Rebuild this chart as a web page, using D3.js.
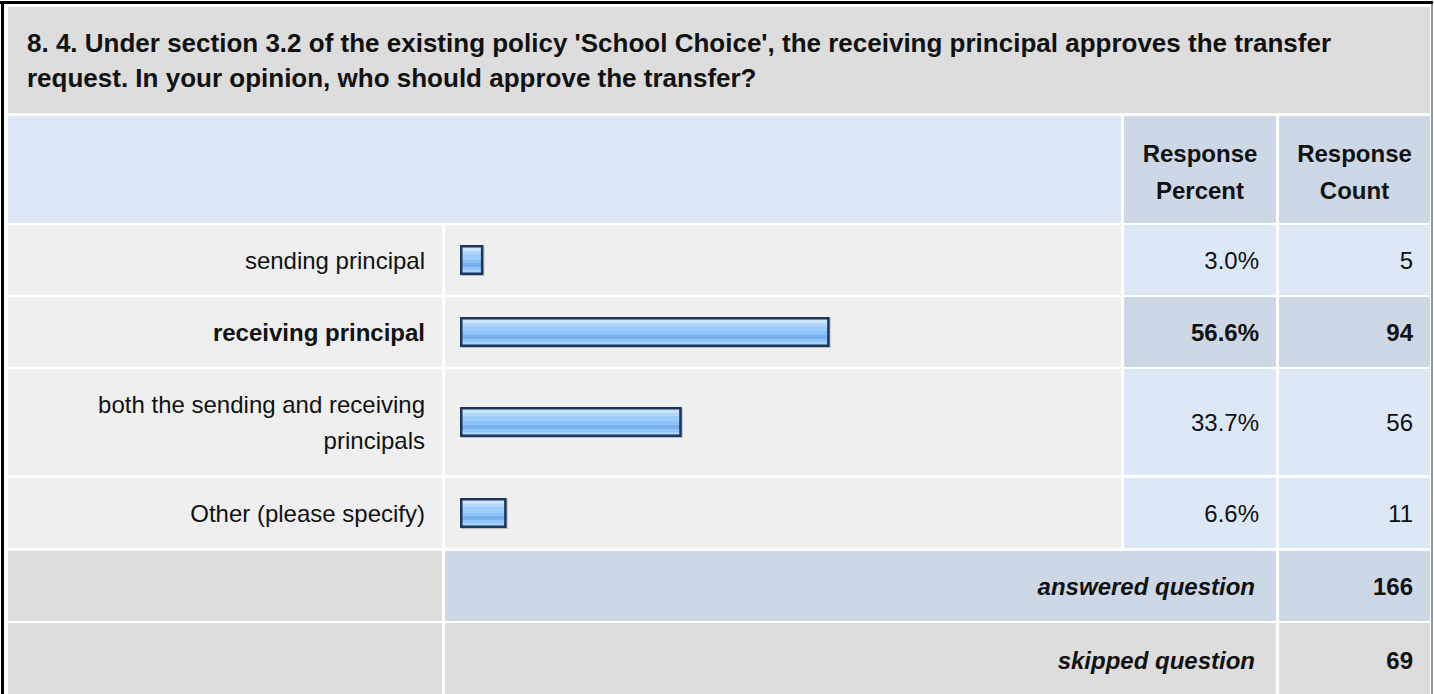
<!DOCTYPE html>
<html>
<head>
<meta charset="utf-8">
<script src="https://cdn.jsdelivr.net/npm/d3@7"></script>
<style>
  body { margin: 0; background: #fff; }
  svg { display: block; font-family: "Liberation Sans", Arial, sans-serif; }
</style>
</head>
<body>
<div id="container"></div>
<script>
/* DATA */
const titleLines = [
  "8. 4. Under section 3.2 of the existing policy 'School Choice', the receiving principal approves the transfer",
  "request. In your opinion, who should approve the transfer?"
];
const headerPercent = ["Response", "Percent"];
const headerCount = ["Response", "Count"];
const answers = ["sending principal", "receiving principal", "both the sending and receiving principals", "Other (please specify)"];
const percents = [3.0, 56.6, 33.7, 6.6];
const counts = [5, 94, 56, 11];
const summaryLabels = ["answered question", "skipped question"];
const summaryCounts = [166, 69];

/* CONSTANTS AND GLOBALS */
const width = 1434, height = 694;
const gap = 2.5, pad = 17, fs = 24, lineH = 36;
const colX = { label: 8, bar: 445, pct: 1124, cnt: 1279, end: 1430 };
const colors = {
  title: "#dddddd", head: "#dce7f5", headNum: "#cdd8e6",
  row: "#efefef", num: "#dce8f5", numMax: "#cdd8e6", grey: "#dddddd"
};

const svg = d3.select("#container").append("svg")
  .attr("width", width).attr("height", height);

const defs = svg.append("defs");
const grad = defs.append("linearGradient").attr("id", "barGrad")
  .attr("x1", 0).attr("y1", 0).attr("x2", 0).attr("y2", 1);
[[0, "#cde3fb"], [0.14, "#cde3fb"], [0.14, "#b3d6fa"], [0.28, "#b3d6fa"], [0.28, "#9ecdfa"],
 [0.48, "#9ecdfa"], [0.48, "#8cc3f8"], [0.62, "#8cc3f8"], [0.62, "#77b1ef"], [0.78, "#77b1ef"],
 [0.78, "#8fc5f9"], [0.9, "#8fc5f9"], [0.9, "#a9d3fc"], [1, "#a9d3fc"]]
  .forEach(s => grad.append("stop").attr("offset", s[0]).attr("stop-color", s[1]));

// frame
svg.append("rect").attr("x", 0).attr("y", 1).attr("width", width - 1).attr("height", 3).attr("fill", "#000");
svg.append("rect").attr("x", 1).attr("y", 1).attr("width", 3).attr("height", height).attr("fill", "#000");
svg.append("rect").attr("x", 1431).attr("y", 4).attr("width", 2).attr("height", height).attr("fill", "#999");

function cell(x0, x1, y, h, fill) {
  svg.append("rect").attr("x", x0).attr("y", y).attr("width", x1 - x0).attr("height", h).attr("fill", fill);
}

/* TITLE */
let y = 7;
const titleH = 106;
cell(colX.label, colX.end, y, titleH, colors.title);
svg.append("text").attr("font-size", 26).attr("font-weight", "bold").attr("fill", "#111")
  .selectAll("tspan").data(titleLines).join("tspan")
  .attr("x", 27).attr("y", (d, i) => y + 45 + i * 35).text(d => d);
y += titleH + 3;

/* HEADER */
const headH = 107;
cell(colX.label, colX.pct - 3, y, headH, colors.head);
cell(colX.pct, colX.cnt - 3, y, headH, colors.headNum);
cell(colX.cnt, colX.end, y, headH, colors.headNum);
[[headerPercent, (colX.pct + colX.cnt - 3) / 2], [headerCount, (colX.cnt + colX.end) / 2]].forEach(([lines, cx]) => {
  svg.append("text").attr("font-size", fs).attr("font-weight", "bold").attr("text-anchor", "middle").attr("fill", "#111")
    .selectAll("tspan").data(lines).join("tspan")
    .attr("x", cx).attr("y", (d, i) => y + 46 + i * 37).text(d => d);
});
y += headH + 2;

/* SCALES */
const barInner = (colX.pct - 3 - colX.bar) - 30;
const xScale = d3.scaleLinear().domain([0, 100]).range([0, barInner]);
const maxIdx = percents.indexOf(d3.max(percents));

// word wrap helper
function wrapLines(str, maxW, bold) {
  const t = svg.append("text").attr("font-size", fs).attr("font-weight", bold ? "bold" : "normal");
  const words = str.split(" "), lines = [];
  let cur = "";
  words.forEach(w => {
    const test = cur ? cur + " " + w : w;
    t.text(test);
    if (t.node().getComputedTextLength() > maxW && cur) { lines.push(cur); cur = w; }
    else cur = test;
  });
  lines.push(cur);
  t.remove();
  return lines;
}

/* ROWS */
answers.forEach((a, i) => {
  const bold = i === maxIdx;
  const lines = wrapLines(a, colX.bar - 3 - colX.label - 2 * pad, bold);
  const h = 70 + (lines.length - 1) * lineH;
  const cy = y + h / 2;
  cell(colX.label, colX.bar - 3, y, h, colors.row);
  cell(colX.bar, colX.pct - 3, y, h, colors.row);
  cell(colX.pct, colX.cnt - 3, y, h, bold ? colors.numMax : colors.num);
  cell(colX.cnt, colX.end, y, h, bold ? colors.numMax : colors.num);

  svg.append("text").attr("font-size", fs).attr("font-weight", bold ? "bold" : "normal")
    .attr("text-anchor", "end").attr("fill", "#111")
    .selectAll("tspan").data(lines).join("tspan")
    .attr("x", colX.bar - 3 - pad)
    .attr("y", (d, k) => cy + 8.5 + (k - (lines.length - 1) / 2) * lineH)
    .text(d => d);

  // bar
  const bx = colX.bar + 15, bw = xScale(percents[i]) + 4, by = cy - 15, bh = 30;
  svg.append("rect").attr("x", bx + 1).attr("y", by + 1).attr("width", bw).attr("height", bh)
    .attr("fill", "#8a96a6").attr("opacity", 0.55);
  svg.append("rect").attr("x", bx).attr("y", by).attr("width", bw).attr("height", bh).attr("fill", "#1b3658");
  svg.append("rect").attr("x", bx + 2.5).attr("y", by + 2.5).attr("width", bw - 5).attr("height", bh - 5)
    .attr("fill", "url(#barGrad)");

  svg.append("text").attr("font-size", fs).attr("font-weight", bold ? "bold" : "normal")
    .attr("text-anchor", "end").attr("fill", "#111")
    .attr("x", colX.cnt - 3 - pad).attr("y", cy + 8.5).text(d3.format(".1f")(percents[i]) + "%");
  svg.append("text").attr("font-size", fs).attr("font-weight", bold ? "bold" : "normal")
    .attr("text-anchor", "end").attr("fill", "#111")
    .attr("x", colX.end - pad).attr("y", cy + 8.5).text(counts[i]);

  y += h + (lines.length > 1 ? 3 : 2);
});
y += 1;

/* SUMMARY */
summaryLabels.forEach((s, i) => {
  const h = i === 0 ? 70 : 74;
  const cy = i === 0 ? y + h / 2 : y + 37.5;
  const fill = i === 0 ? colors.numMax : colors.grey;
  cell(colX.label, colX.bar - 3, y, h, colors.grey);
  cell(colX.bar, colX.cnt - 3, y, h, fill);
  cell(colX.cnt, colX.end, y, h, fill);
  svg.append("text").attr("font-size", fs).attr("font-weight", "bold").attr("font-style", "italic")
    .attr("text-anchor", "end").attr("fill", "#111")
    .attr("x", colX.cnt - 3 - pad - 4).attr("y", cy + 8.5).text(s);
  svg.append("text").attr("font-size", fs).attr("font-weight", "bold")
    .attr("text-anchor", "end").attr("fill", "#111")
    .attr("x", colX.end - pad).attr("y", cy + 8.5).text(summaryCounts[i]);
  y += h + 2;
});
</script>
</body>
</html>
